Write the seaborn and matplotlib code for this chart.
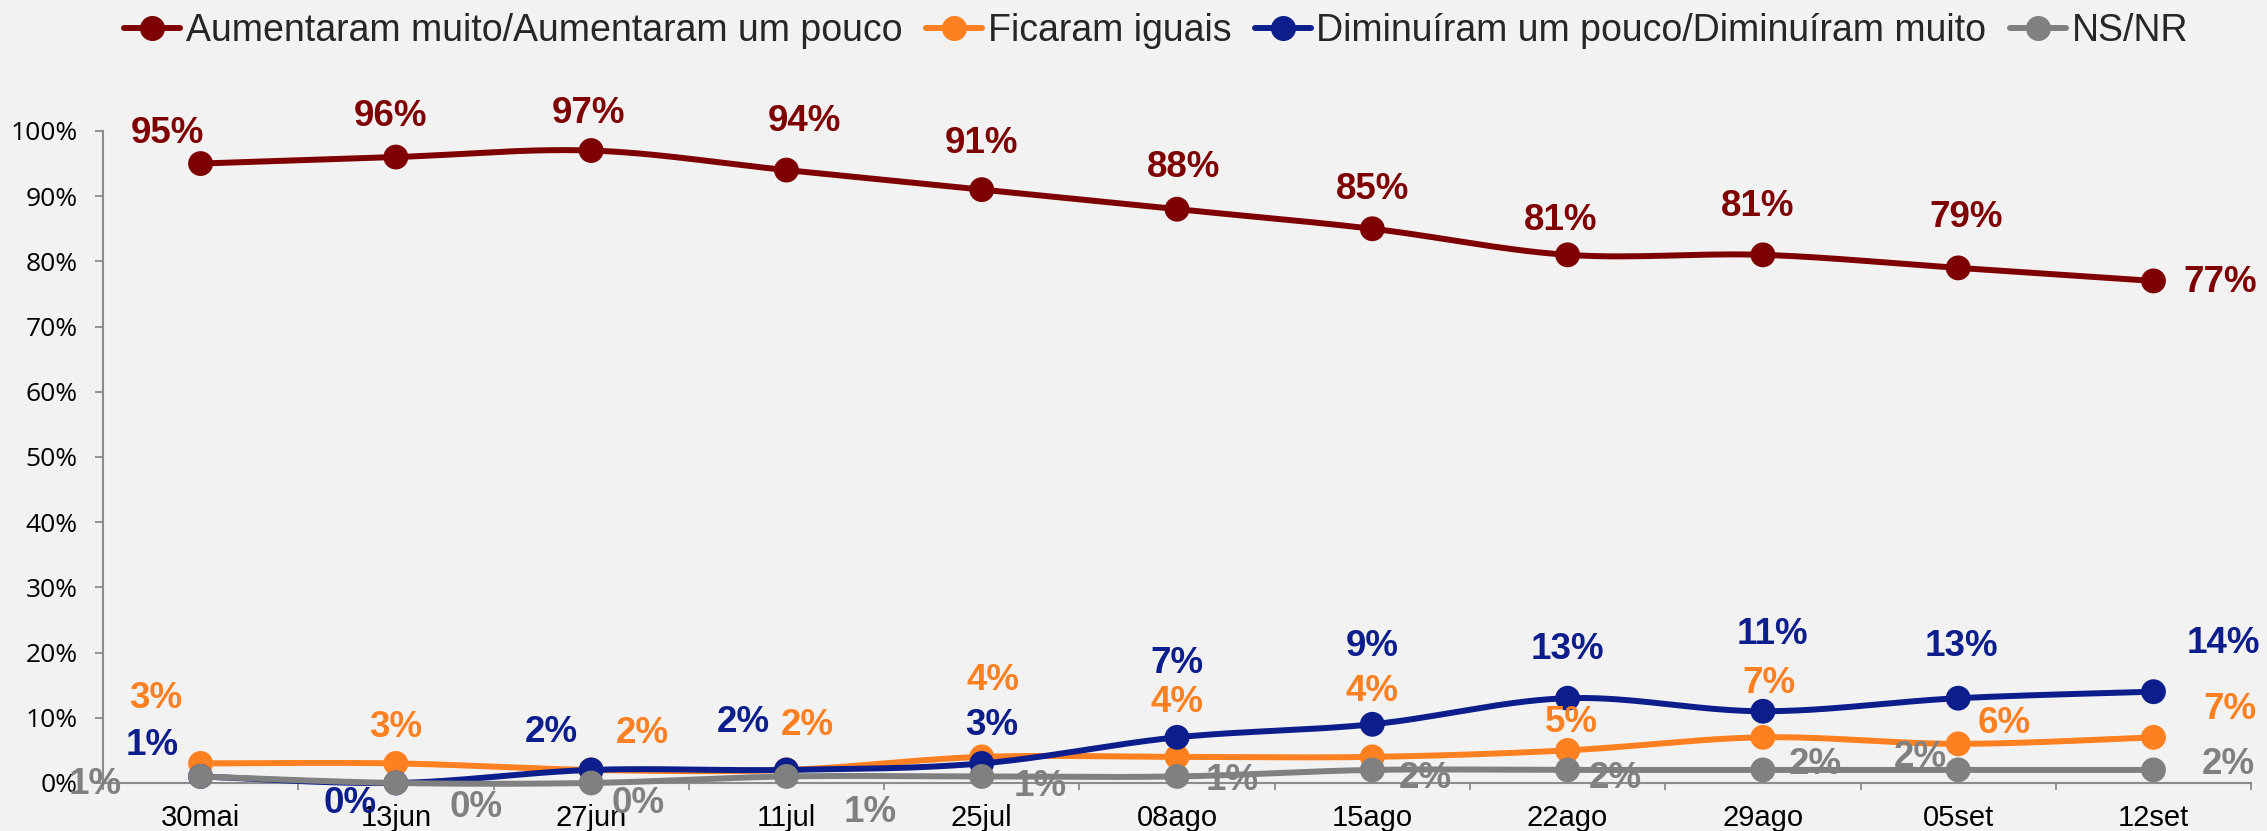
import numpy as np
import pandas as pd
import matplotlib
matplotlib.use("Agg")
import matplotlib.pyplot as plt
from matplotlib.lines import Line2D
import seaborn as sns

# Survey waves and shares (%) per answer
dates = ["30mai", "13jun", "27jun", "11jul", "25jul", "08ago",
         "15ago", "22ago", "29ago", "05set", "12set"]
aumentaram = [95, 96, 97, 94, 91, 88, 85, 81, 81, 79, 77]
iguais = [3, 3, 2, 2, 4, 4, 4, 5, 7, 6, 7]
diminuiram = [1, 0, 2, 2, 3, 7, 9, 13, 11, 13, 14]
nsnr = [1, 0, 0, 1, 1, 1, 2, 2, 2, 2, 2]
series_names = ["Aumentaram muito/Aumentaram um pouco", "Ficaram iguais",
                "Diminuíram um pouco/Diminuíram muito", "NS/NR"]

colors = ["#7F0000", "#FF8020", "#0C1E8C", "#808080"]

# value-label offsets in points (dx, dy)
label_offsets = [
    [(-24, 22), (-4, 29), (-2, 27), (13, 35), (0, 33), (5, 30), (0, 28),
     (-5, 25), (-4, 35), (6, 36), (48, -1)],
    [(-32, 47), (0, 26), (37, 26), (15, 32), (8, 55), (0, 39), (0, 47),
     (3, 20), (4, 39), (33, 15), (55, 20)],
    [(-35, 22), (-33, -15), (-29, 27), (-31, 34), (7, 27), (0, 53), (0, 56),
     (0, 35), (7, 55), (2, 37), (50, 35)],
    [(-76, -6), (58, -18), (34, -15), (60, -26), (42, -7), (40, -3), (38, -6),
     (34, -6), (38, 4), (-27, 9), (54, 4)],
]

sns.set_theme(style="white")
bg = "#F2F2F2"
plt.rcParams["figure.facecolor"] = bg
plt.rcParams["axes.facecolor"] = bg
plt.rcParams["font.family"] = ["Liberation Sans", "DejaVu Sans"]

df = pd.DataFrame({
    "pos": list(range(len(dates))) * 4,
    "valor": aumentaram + iguais + diminuiram + nsnr,
    "serie": np.repeat(series_names, len(dates)),
})

fig = plt.figure(figsize=(22.67, 8.31), dpi=100)
ax = fig.add_axes([0.0454, 0.0578, 0.9476, 0.7846])


def smooth(ys, n=40):
    """Cubic Bezier through the points (Catmull-Rom style tangents)."""
    ys = np.asarray(ys, float)
    xs = np.arange(len(ys), dtype=float)
    P = np.column_stack([xs, ys])
    Pe = np.vstack([P[0], P, P[-1]])
    out = []
    t = np.linspace(0, 1, n)[:, None]
    for i in range(len(P) - 1):
        p0, p1, p2, p3 = Pe[i], Pe[i + 1], Pe[i + 2], Pe[i + 3]
        c1 = p1 + (p2 - p0) / 6
        c2 = p2 - (p3 - p1) / 6
        seg = ((1 - t) ** 3) * p1 + 3 * ((1 - t) ** 2) * t * c1 \
            + 3 * (1 - t) * t ** 2 * c2 + t ** 3 * p2
        out.append(seg if i == 0 else seg[1:])
    seg = np.vstack(out)
    return seg[:, 0], seg[:, 1]


for k, name in enumerate(series_names):
    sub = df[df["serie"] == name]
    sx, sy = smooth(sub["valor"].values)
    ax.plot(sx, sy, color=colors[k], lw=4.3, solid_capstyle="round",
            clip_on=False, zorder=3 + 2 * k)
    sns.scatterplot(data=sub, x="pos", y="valor", color=colors[k], s=320,
                    edgecolor="none", ax=ax, legend=False, clip_on=False,
                    zorder=4 + 2 * k)
    for (x, v), (dx, dy) in zip(zip(sub["pos"], sub["valor"]), label_offsets[k]):
        ax.annotate(f"{v}%", (x, v), xytext=(dx, dy), textcoords="offset points",
                    ha="center", va="center", color=colors[k], fontsize=26.5,
                    fontweight="bold", family="Liberation Sans",
                    annotation_clip=False, zorder=20)

ax.set_xlim(-0.5, len(dates) - 0.5)
ax.set_ylim(0, 100)
ax.set_xlabel("")
ax.set_ylabel("")

ax.set_yticks(range(0, 101, 10))
ax.set_yticklabels([f"{v}%" for v in range(0, 101, 10)],
                   family="Open Sans", fontsize=19, color="black")
ax.set_xticks(range(len(dates)))
ax.set_xticklabels(dates, family="Liberation Sans", fontsize=21, color="black")
ax.set_xticks(np.arange(-0.5, len(dates), 1.0), minor=True)

ax.tick_params(axis="y", which="major", direction="out", length=6, width=1.3,
               color="#8C8C8C", pad=12, left=True)
ax.tick_params(axis="x", which="major", length=0, pad=15)
ax.tick_params(axis="x", which="minor", direction="out", length=5, width=1.3,
               color="#8C8C8C", bottom=True)

for side in ["top", "right"]:
    ax.spines[side].set_visible(False)
for side in ["left", "bottom"]:
    ax.spines[side].set_color("#8C8C8C")
    ax.spines[side].set_linewidth(1.5)
ax.grid(False)

handles = [Line2D([0], [0], color=c, lw=4.3, marker="o", markersize=17,
                  markeredgecolor=c) for c in colors]
fig.legend(handles, series_names, loc="center", bbox_to_anchor=(0.51, 0.963),
           ncol=4, frameon=False, handlelength=1.5, handletextpad=0.15,
           columnspacing=0.62, prop={"family": "Liberation Sans", "size": 27})

fig.savefig("out.png", dpi=100, facecolor=bg)
